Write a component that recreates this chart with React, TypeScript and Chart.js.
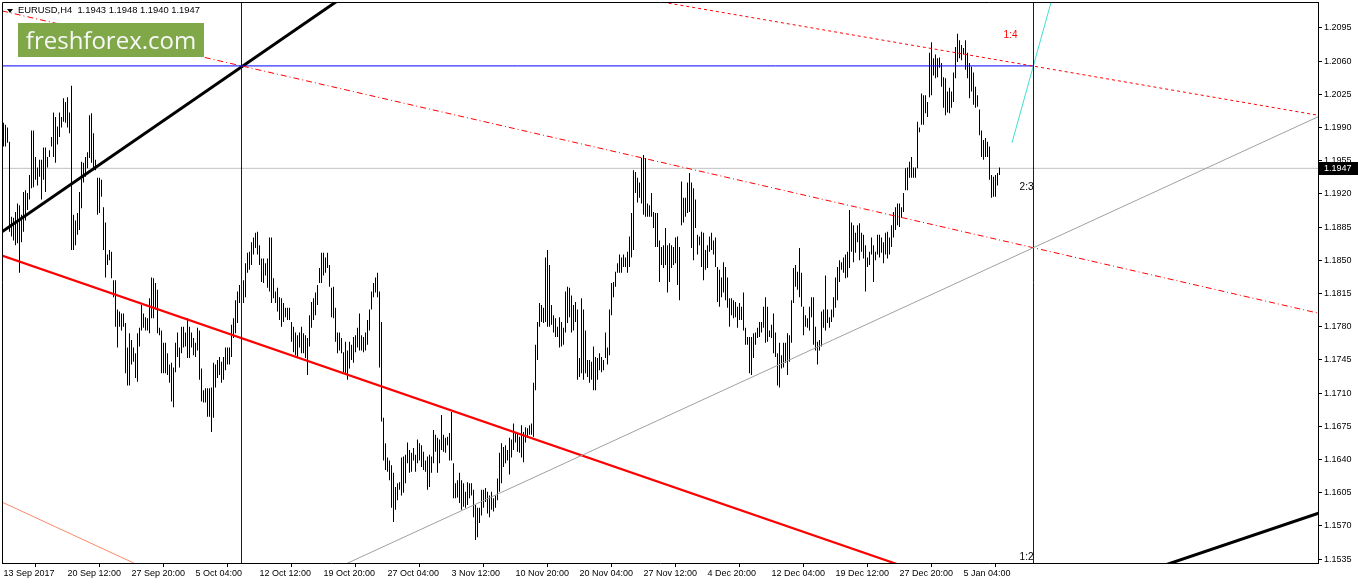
import { useEffect, useRef } from 'react';
import { Chart, registerables } from 'chart.js';

Chart.register(...registerables);

const symbolTitle = 'EURUSD,H4  1.1943 1.1948 1.1940 1.1947';
const lastClose = 1.1947;

// one label every 32 H4 bars
const timeLabels = [
  '13 Sep 2017', '20 Sep 12:00', '27 Sep 20:00', '5 Oct 04:00', '12 Oct 12:00', '19 Oct 20:00',
  '27 Oct 04:00', '3 Nov 12:00', '10 Nov 20:00', '20 Nov 04:00', '27 Nov 12:00', '4 Dec 20:00',
  '12 Dec 04:00', '19 Dec 12:00', '27 Dec 20:00', '5 Jan 04:00',
];
const timeLabelStep = 32;

const priceTicks = [
  1.2095, 1.206, 1.2025, 1.199, 1.1955, 1.192, 1.1885, 1.185, 1.1815,
  1.178, 1.1745, 1.171, 1.1675, 1.164, 1.1605, 1.157, 1.1535,
];

const highs = [
  1.1995, 1.1993, 1.1990, 1.1975, 1.1896, 1.1895, 1.1901, 1.1910, 1.1908, 1.1898,
  1.1922, 1.1924, 1.1921, 1.1940, 1.1987, 1.1987, 1.1959, 1.1948, 1.1956, 1.1956,
  1.1969, 1.1969, 1.1959, 1.1966, 1.1980, 1.2006, 1.2001, 1.1991, 1.2006, 1.2001,
  1.2021, 1.2017, 1.2022, 1.2006, 1.2034, 1.1898, 1.1892, 1.1900, 1.1922, 1.1954,
  1.1953, 1.1959, 1.1964, 1.2003, 1.2005, 1.1984, 1.1956, 1.1937, 1.1937, 1.1935,
  1.1906, 1.1890, 1.1856, 1.1861, 1.1859, 1.1829, 1.1829, 1.1798, 1.1796, 1.1794,
  1.1794, 1.1784, 1.1758, 1.1773, 1.1766, 1.1758, 1.1752, 1.1773, 1.1779, 1.1803,
  1.1794, 1.1790, 1.1789, 1.1810, 1.1832, 1.1831, 1.1826, 1.1819, 1.1779, 1.1776,
  1.1763, 1.1763, 1.1752, 1.1740, 1.1742, 1.1737, 1.1763, 1.1774, 1.1758, 1.1780,
  1.1780, 1.1774, 1.1789, 1.1780, 1.1774, 1.1768, 1.1763, 1.1779, 1.1776, 1.1736,
  1.1713, 1.1715, 1.1715, 1.1715, 1.1716, 1.1742, 1.1740, 1.1745, 1.1748, 1.1743,
  1.1748, 1.1758, 1.1758, 1.1758, 1.1782, 1.1789, 1.1808, 1.1817, 1.1824, 1.1827,
  1.1829, 1.1847, 1.1858, 1.1859, 1.1869, 1.1874, 1.1879, 1.1880, 1.1866, 1.1852,
  1.1852, 1.1847, 1.1852, 1.1874, 1.1874, 1.1831, 1.1817, 1.1821, 1.1811, 1.1810,
  1.1805, 1.1800, 1.1800, 1.1800, 1.1785, 1.1780, 1.1774, 1.1771, 1.1774, 1.1780,
  1.1773, 1.1771, 1.1768, 1.1792, 1.1806, 1.1810, 1.1816, 1.1824, 1.1842, 1.1858,
  1.1858, 1.1853, 1.1858, 1.1845, 1.1821, 1.1822, 1.1800, 1.1774, 1.1774, 1.1768,
  1.1753, 1.1764, 1.1755, 1.1764, 1.1761, 1.1769, 1.1771, 1.1779, 1.1794, 1.1771,
  1.1769, 1.1774, 1.1787, 1.1798, 1.1817, 1.1826, 1.1832, 1.1837, 1.1817, 1.1785,
  1.1684, 1.1657, 1.1642, 1.1639, 1.1634, 1.1626, 1.1611, 1.1615, 1.1616, 1.1642,
  1.1643, 1.1645, 1.1658, 1.1650, 1.1647, 1.1652, 1.1645, 1.1661, 1.1657, 1.1655,
  1.1648, 1.1639, 1.1643, 1.1645, 1.1643, 1.1671, 1.1666, 1.1663, 1.1661, 1.1687,
  1.1666, 1.1663, 1.1664, 1.1668, 1.1690, 1.1636, 1.1615, 1.1618, 1.1626, 1.1618,
  1.1615, 1.1606, 1.1616, 1.1615, 1.1615, 1.1608, 1.1592, 1.1589, 1.1589, 1.1608,
  1.1608, 1.1610, 1.1606, 1.1602, 1.1606, 1.1599, 1.1602, 1.1620, 1.1647, 1.1657,
  1.1653, 1.1655, 1.1650, 1.1663, 1.1661, 1.1678, 1.1669, 1.1668, 1.1664, 1.1676,
  1.1669, 1.1674, 1.1673, 1.1676, 1.1678, 1.1721, 1.1761, 1.1785, 1.1805, 1.1803,
  1.1800, 1.1853, 1.1861, 1.1845, 1.1803, 1.1792, 1.1789, 1.1780, 1.1790, 1.1785,
  1.1779, 1.1817, 1.1822, 1.1821, 1.1813, 1.1803, 1.1806, 1.1798, 1.1747, 1.1810,
  1.1798, 1.1776, 1.1745, 1.1745, 1.1743, 1.1759, 1.1748, 1.1747, 1.1752, 1.1748,
  1.1745, 1.1774, 1.1758, 1.1798, 1.1826, 1.1827, 1.1838, 1.1847, 1.1856, 1.1853,
  1.1856, 1.1853, 1.1859, 1.1875, 1.1900, 1.1945, 1.1943, 1.1937, 1.1932, 1.1958,
  1.1961, 1.1958, 1.1910, 1.1908, 1.1921, 1.1901, 1.1900, 1.1900, 1.1871, 1.1864,
  1.1866, 1.1884, 1.1866, 1.1868, 1.1866, 1.1864, 1.1874, 1.1875, 1.1864, 1.1933,
  1.1916, 1.1916, 1.1932, 1.1942, 1.1932, 1.1926, 1.1914, 1.1877, 1.1875, 1.1880,
  1.1879, 1.1861, 1.1866, 1.1875, 1.1879, 1.1871, 1.1874, 1.1843, 1.1840, 1.1832,
  1.1848, 1.1843, 1.1832, 1.1810, 1.1810, 1.1808, 1.1806, 1.1801, 1.1805, 1.1801,
  1.1816, 1.1779, 1.1769, 1.1769, 1.1769, 1.1773, 1.1774, 1.1779, 1.1785, 1.1785,
  1.1801, 1.1811, 1.1801, 1.1776, 1.1782, 1.1794, 1.1774, 1.1752, 1.1763, 1.1750,
  1.1763, 1.1763, 1.1773, 1.1771, 1.1808, 1.1842, 1.1845, 1.1838, 1.1863, 1.1837,
  1.1801, 1.1792, 1.1789, 1.1801, 1.1811, 1.1811, 1.1780, 1.1764, 1.1766, 1.1796,
  1.1798, 1.1834, 1.1798, 1.1790, 1.1798, 1.1811, 1.1832, 1.1843, 1.1850, 1.1848,
  1.1853, 1.1856, 1.1859, 1.1903, 1.1890, 1.1887, 1.1879, 1.1887, 1.1889, 1.1879,
  1.1877, 1.1866, 1.1853, 1.1859, 1.1874, 1.1866, 1.1859, 1.1877, 1.1877, 1.1874,
  1.1869, 1.1879, 1.1880, 1.1874, 1.1887, 1.1901, 1.1906, 1.1910, 1.1910, 1.1906,
  1.1921, 1.1947, 1.1948, 1.1954, 1.1959, 1.1948, 1.1948, 1.1996, 1.1990, 1.2026,
  1.2024, 1.2024, 1.2017, 1.2069, 1.2080, 1.2063, 1.2067, 1.2063, 1.2064, 1.2058,
  1.2043, 1.2042, 1.2028, 1.2032, 1.2028, 1.2048, 1.2075, 1.2089, 1.2082, 1.2077,
  1.2074, 1.2082, 1.2069, 1.2058, 1.2054, 1.2048, 1.2033, 1.2024, 1.2009, 1.1987,
  1.1977, 1.1979, 1.1975, 1.1970, 1.1940, 1.1938, 1.1940, 1.1942, 1.1948,
];

const lows = [
  1.1970, 1.1970, 1.1974, 1.1880, 1.1875, 1.1871, 1.1866, 1.1868, 1.1837, 1.1869,
  1.1880, 1.1892, 1.1903, 1.1914, 1.1926, 1.1927, 1.1935, 1.1929, 1.1938, 1.1914,
  1.1935, 1.1922, 1.1948, 1.1959, 1.1970, 1.1959, 1.1953, 1.1972, 1.1980, 1.1990,
  1.1996, 1.1995, 1.1990, 1.1984, 1.1861, 1.1861, 1.1866, 1.1877, 1.1882, 1.1905,
  1.1932, 1.1938, 1.1947, 1.1958, 1.1953, 1.1945, 1.1945, 1.1898, 1.1900, 1.1917,
  1.1861, 1.1832, 1.1845, 1.1850, 1.1831, 1.1811, 1.1780, 1.1758, 1.1780, 1.1776,
  1.1780, 1.1731, 1.1718, 1.1718, 1.1740, 1.1743, 1.1726, 1.1722, 1.1759, 1.1776,
  1.1779, 1.1776, 1.1776, 1.1773, 1.1789, 1.1789, 1.1798, 1.1773, 1.1771, 1.1731,
  1.1731, 1.1731, 1.1729, 1.1721, 1.1701, 1.1695, 1.1732, 1.1748, 1.1737, 1.1752,
  1.1758, 1.1759, 1.1747, 1.1747, 1.1758, 1.1750, 1.1748, 1.1755, 1.1724, 1.1701,
  1.1700, 1.1700, 1.1685, 1.1685, 1.1669, 1.1684, 1.1716, 1.1726, 1.1729, 1.1721,
  1.1724, 1.1734, 1.1740, 1.1740, 1.1748, 1.1768, 1.1773, 1.1784, 1.1805, 1.1796,
  1.1805, 1.1811, 1.1837, 1.1840, 1.1845, 1.1856, 1.1863, 1.1856, 1.1845, 1.1827,
  1.1826, 1.1834, 1.1821, 1.1817, 1.1805, 1.1810, 1.1805, 1.1796, 1.1787, 1.1780,
  1.1785, 1.1790, 1.1787, 1.1787, 1.1764, 1.1753, 1.1750, 1.1747, 1.1758, 1.1752,
  1.1752, 1.1747, 1.1729, 1.1759, 1.1779, 1.1787, 1.1792, 1.1803, 1.1826, 1.1826,
  1.1834, 1.1837, 1.1842, 1.1822, 1.1790, 1.1789, 1.1764, 1.1752, 1.1755, 1.1752,
  1.1732, 1.1731, 1.1724, 1.1736, 1.1745, 1.1742, 1.1753, 1.1758, 1.1755, 1.1755,
  1.1753, 1.1755, 1.1761, 1.1776, 1.1798, 1.1811, 1.1816, 1.1811, 1.1737, 1.1680,
  1.1639, 1.1629, 1.1627, 1.1618, 1.1589, 1.1574, 1.1587, 1.1597, 1.1608, 1.1602,
  1.1605, 1.1615, 1.1636, 1.1626, 1.1627, 1.1639, 1.1627, 1.1636, 1.1639, 1.1632,
  1.1629, 1.1627, 1.1608, 1.1611, 1.1626, 1.1636, 1.1648, 1.1626, 1.1636, 1.1650,
  1.1648, 1.1647, 1.1655, 1.1639, 1.1639, 1.1599, 1.1599, 1.1600, 1.1594, 1.1587,
  1.1590, 1.1589, 1.1592, 1.1599, 1.1602, 1.1579, 1.1555, 1.1558, 1.1573, 1.1581,
  1.1589, 1.1595, 1.1583, 1.1579, 1.1587, 1.1585, 1.1589, 1.1597, 1.1606, 1.1615,
  1.1632, 1.1636, 1.1639, 1.1624, 1.1642, 1.1650, 1.1658, 1.1648, 1.1647, 1.1642,
  1.1637, 1.1658, 1.1663, 1.1666, 1.1666, 1.1664, 1.1713, 1.1745, 1.1780, 1.1785,
  1.1784, 1.1785, 1.1780, 1.1780, 1.1782, 1.1774, 1.1769, 1.1769, 1.1758, 1.1759,
  1.1761, 1.1774, 1.1784, 1.1790, 1.1774, 1.1776, 1.1785, 1.1724, 1.1727, 1.1731,
  1.1724, 1.1731, 1.1727, 1.1721, 1.1724, 1.1713, 1.1713, 1.1724, 1.1734, 1.1732,
  1.1734, 1.1747, 1.1740, 1.1750, 1.1792, 1.1811, 1.1822, 1.1837, 1.1837, 1.1837,
  1.1843, 1.1843, 1.1837, 1.1843, 1.1853, 1.1861, 1.1921, 1.1911, 1.1916, 1.1910,
  1.1898, 1.1896, 1.1896, 1.1896, 1.1896, 1.1884, 1.1864, 1.1864, 1.1827, 1.1845,
  1.1842, 1.1845, 1.1816, 1.1827, 1.1842, 1.1845, 1.1847, 1.1824, 1.1808, 1.1887,
  1.1890, 1.1896, 1.1900, 1.1901, 1.1863, 1.1850, 1.1884, 1.1856, 1.1866, 1.1843,
  1.1829, 1.1840, 1.1842, 1.1859, 1.1861, 1.1856, 1.1843, 1.1806, 1.1801, 1.1811,
  1.1816, 1.1808, 1.1800, 1.1780, 1.1792, 1.1789, 1.1790, 1.1779, 1.1787, 1.1787,
  1.1776, 1.1761, 1.1761, 1.1731, 1.1729, 1.1747, 1.1761, 1.1768, 1.1769, 1.1774,
  1.1779, 1.1763, 1.1764, 1.1769, 1.1768, 1.1752, 1.1748, 1.1718, 1.1716, 1.1736,
  1.1737, 1.1742, 1.1729, 1.1743, 1.1763, 1.1805, 1.1822, 1.1819, 1.1811, 1.1801,
  1.1771, 1.1780, 1.1779, 1.1776, 1.1790, 1.1761, 1.1755, 1.1740, 1.1755, 1.1759,
  1.1779, 1.1776, 1.1784, 1.1779, 1.1785, 1.1790, 1.1800, 1.1808, 1.1827, 1.1840,
  1.1837, 1.1831, 1.1832, 1.1842, 1.1859, 1.1848, 1.1858, 1.1869, 1.1850, 1.1859,
  1.1852, 1.1817, 1.1843, 1.1845, 1.1856, 1.1827, 1.1850, 1.1856, 1.1853, 1.1858,
  1.1847, 1.1856, 1.1852, 1.1856, 1.1864, 1.1874, 1.1882, 1.1887, 1.1885, 1.1895,
  1.1901, 1.1924, 1.1924, 1.1937, 1.1937, 1.1937, 1.1937, 1.1947, 1.1985, 1.1993,
  1.1993, 1.2005, 1.2001, 1.2022, 1.2024, 1.2045, 1.2042, 1.2043, 1.2053, 1.2033,
  1.2011, 1.2003, 1.2006, 1.2005, 1.2011, 1.2017, 1.2042, 1.2059, 1.2063, 1.2061,
  1.2067, 1.2051, 1.2042, 1.2021, 1.2028, 1.2014, 1.2011, 1.2012, 1.1982, 1.1959,
  1.1956, 1.1959, 1.1959, 1.1935, 1.1916, 1.1917, 1.1917, 1.1929, 1.1940,
];

// drawn objects, in (bar index, price)
const blackTrendUpper = [{ x: -0.75, y: 1.1880 }, { x: 170, y: 1.2128 }];
const blackTrendLower = [{ x: 570, y: 1.1521 }, { x: 660, y: 1.1585 }];
const redTrend = [{ x: -0.75, y: 1.1855 }, { x: 460, y: 1.1520 }];
const salmonTrend = [{ x: -0.75, y: 1.1595 }, { x: 70, y: 1.1526 }];
const grayTrend = [{ x: 160, y: 1.1519 }, { x: 660, y: 1.2004 }];
const redDashDot = [{ x: -0.75, y: 1.2113 }, { x: 660, y: 1.1793 }];
const redDotted = [{ x: 300, y: 1.2133 }, { x: 660, y: 1.2002 }];
const cyanLine = [{ x: 504.25, y: 1.1974 }, { x: 526, y: 1.2139 }];
const blueLevel = [{ x: -0.75, y: 1.2055 }, { x: 515, y: 1.2055 }];
const blueMarkers = [119, 515];
const fiboLabels = [
  { text: '1:4', bar: 507, price: 1.2087, color: '#ff0000' },
  { text: '2:3', bar: 515, price: 1.1927, color: '#000000' },
  { text: '1:2', bar: 515, price: 1.1537, color: '#000000' },
];

const xMin = -0.75;
const xMax = 657.25;
const yMin = 1.15308;
const yMax = 1.21224;
const FONT = '"Liberation Sans", Arial, sans-serif';

const decorPlugin = {
  id: 'decor',
  afterDraw(chart: any) {
    const { ctx, chartArea: a, scales } = chart;
    ctx.save();
    ctx.strokeStyle = '#000';
    ctx.lineWidth = 1;
    ctx.beginPath();
    ctx.moveTo(a.left + 0.5, a.bottom);
    ctx.lineTo(a.left + 0.5, a.top + 0.5);
    ctx.lineTo(a.right, a.top + 0.5);
    ctx.stroke();

    ctx.beginPath();
    ctx.rect(a.left, a.top, a.right - a.left, a.bottom - a.top);
    ctx.clip();
    ctx.font = `10px ${FONT}`;
    ctx.textAlign = 'right';
    ctx.textBaseline = 'middle';
    for (const l of fiboLabels) {
      ctx.fillStyle = l.color;
      ctx.fillText(l.text, scales.x.getPixelForValue(l.bar), scales.y.getPixelForValue(l.price));
    }
    ctx.restore();

    // last price marker on the price scale
    ctx.save();
    const y = Math.round(scales.y.getPixelForValue(lastClose));
    ctx.fillStyle = '#000';
    ctx.fillRect(a.right + 1, y - 6, 40, 13);
    ctx.fillStyle = '#fff';
    ctx.font = `9px ${FONT}`;
    ctx.textAlign = 'left';
    ctx.textBaseline = 'middle';
    ctx.fillText(lastClose.toFixed(4), a.right + 6, y + 0.5);
    ctx.restore();
  },
};

const line = (data: any[], color: string, width: number, dash: number[] = [], order = 0) => ({
  type: 'line' as const,
  data,
  borderColor: color,
  borderWidth: width,
  borderDash: dash,
  pointRadius: 0,
  fill: false,
  tension: 0,
  clip: 0,
  order,
});

export default function App() {
  const canvasRef = useRef<HTMLCanvasElement>(null);
  const chartRef = useRef<Chart | null>(null);

  useEffect(() => {
    if (!canvasRef.current) return;
    if (chartRef.current) chartRef.current.destroy();
    const ctx = canvasRef.current.getContext('2d');
    if (!ctx) return;

    const bars = highs.map((h, i) => ({ x: i, y: [lows[i], h] }));

    chartRef.current = new Chart(ctx, {
      type: 'bar',
      data: {
        datasets: [
          {
            type: 'bar',
            data: bars as any,
            backgroundColor: '#000',
            borderWidth: 0,
            barThickness: 1,
            inflateAmount: 0,
            order: 5,
          } as any,
          line([{ x: xMin, y: lastClose }, { x: xMax, y: lastClose }], '#c0c0c0', 1, [], 6),
          line(salmonTrend, '#fa8a6a', 1),
          line(grayTrend, '#a0a0a0', 1),
          line(redDotted, '#ff0000', 1, [3, 3]),
          line(redDashDot, '#ff0000', 1, [6, 3, 1, 3]),
          line(blueLevel, '#0000ff', 1),
          ...blueMarkers.map((b) => line([{ x: b, y: yMin }, { x: b, y: yMax }], '#0000ff', 1)),
          line(cyanLine, '#40e0d0', 1),
          line(redTrend, '#ff0000', 2.2),
          line(blackTrendUpper, '#000000', 3),
          line(blackTrendLower, '#000000', 3),
        ] as any,
      },
      options: {
        responsive: false,
        animation: false,
        events: [],
        layout: { padding: { left: 2, top: 2, right: 0, bottom: 0 } },
        plugins: { legend: { display: false }, tooltip: { enabled: false }, title: { display: false } },
        scales: {
          x: {
            type: 'linear',
            min: xMin,
            max: xMax,
            offset: false,
            bounds: 'data',
            afterBuildTicks: (s: any) => {
              s.ticks = timeLabels.map((_, i) => ({ value: i * timeLabelStep }));
            },
            afterFit: (s: any) => {
              s.height = 21;
              s.paddingLeft = 0;
              s.paddingRight = 0;
            },
            ticks: {
              autoSkip: false,
              maxRotation: 0,
              minRotation: 0,
              align: 'start',
              padding: 1,
              color: '#000',
              font: { family: FONT, size: 9 },
              callback: (_v: any, i: number) => timeLabels[i],
            },
            grid: { drawOnChartArea: false, drawTicks: true, tickLength: 4, color: '#000' },
            border: { color: '#000' },
          },
          y: {
            type: 'linear',
            position: 'right',
            min: yMin,
            max: yMax,
            bounds: 'data',
            afterBuildTicks: (s: any) => {
              s.ticks = priceTicks.map((v) => ({ value: v }));
            },
            afterFit: (s: any) => {
              s.width = 40;
              s.paddingTop = 0;
              s.paddingBottom = 0;
            },
            ticks: {
              autoSkip: false,
              padding: 2,
              color: '#000',
              font: { family: FONT, size: 9 },
              callback: (v: any) => Number(v).toFixed(4),
            },
            grid: { drawOnChartArea: false, drawTicks: true, tickLength: 4, color: '#000' },
            border: { color: '#000' },
          },
        } as any,
      },
      plugins: [decorPlugin],
    });

    return () => {
      if (chartRef.current) {
        chartRef.current.destroy();
        chartRef.current = null;
      }
    };
  }, []);

  return (
    <div style={{ position: 'relative', width: 1358, height: 584, background: '#fff', overflow: 'hidden' }}>
      <style>{'body{margin:0;}'}</style>
      <canvas ref={canvasRef} width={1358} height={584} style={{ display: 'block' }} />
      <div
        style={{
          position: 'absolute', left: 7, top: 9, width: 0, height: 0,
          borderLeft: '3px solid transparent', borderRight: '3px solid transparent', borderTop: '4px solid #000',
        }}
      />
      <div
        style={{
          position: 'absolute', left: 18, top: 4, fontFamily: FONT, fontSize: 9.4, lineHeight: '12px',
          color: '#000', whiteSpace: 'pre',
        }}
      >
        {symbolTitle}
      </div>
      <div
        style={{
          position: 'absolute', left: 18, top: 23, width: 186, height: 34, background: '#80a848',
          color: '#f8f8f8', fontFamily: '"Open Sans", sans-serif', fontSize: 24, lineHeight: '33px',
          textAlign: 'center', whiteSpace: 'nowrap',
        }}
      >
        freshforex.com
      </div>
    </div>
  );
}
